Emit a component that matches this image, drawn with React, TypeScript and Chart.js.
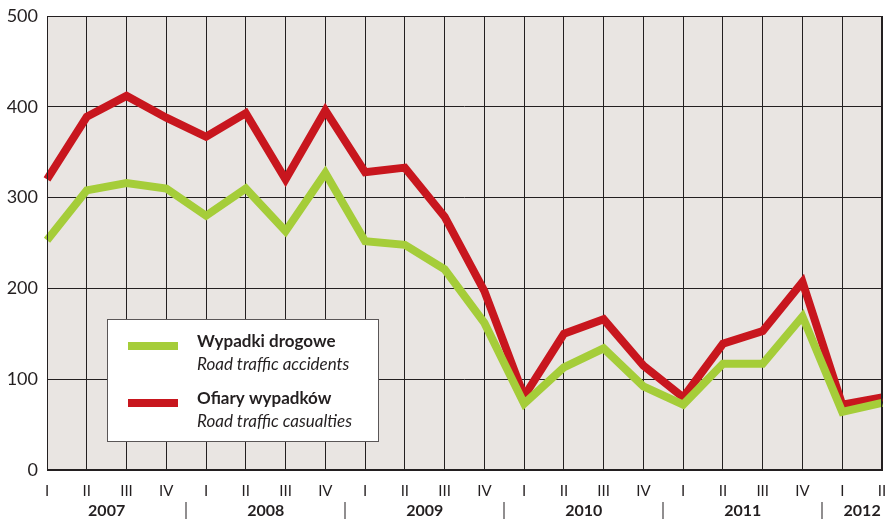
import React, { useEffect, useRef } from "react";
import { Chart, registerables } from "chart.js";

Chart.register(...registerables);

const quarters = ["I","II","III","IV","I","II","III","IV","I","II","III","IV","I","II","III","IV","I","II","III","IV","I","II"];
const years = ["2007", "2008", "2009", "2010", "2011", "2012"];
const yearQuarterCounts = [4, 4, 4, 4, 4, 2];
const accidents = [253,308,316,310,280,310,263,327,252,248,221,162,73,113,134,92,72,117,117,169,64,74];
const casualties = [320,389,412,388,367,393,320,396,328,333,279,197,81,150,166,115,80,139,153,207,72,80];
const yTicks = [0, 100, 200, 300, 400, 500];
const legendItems = [
  { pl: "Wypadki drogowe", en: "Road traffic accidents", color: "#a5cd39" },
  { pl: "Ofiary wypadków", en: "Road traffic casualties", color: "#c8161e" },
];

const FONT = "Lato, 'Open Sans', sans-serif";
const INK = "#231f20";

export default function App() {
  const ref = useRef<HTMLCanvasElement>(null);
  useEffect(() => {
    document.body.style.margin = "0";
    const ctx = ref.current!.getContext("2d")!;
    const decor = {
      id: "decor",
      beforeDraw(chart: any) {
        const { ctx, chartArea: a } = chart;
        ctx.save();
        ctx.fillStyle = "#e9e5e2";
        ctx.fillRect(a.left, a.top, a.right - a.left, a.bottom - a.top);
        ctx.restore();
      },
      afterDatasetsDraw(chart: any) {
        const { ctx, chartArea: a, scales } = chart;
        ctx.save();
        ctx.strokeStyle = INK;
        ctx.lineWidth = 1;
        ctx.strokeRect(a.left + 0.5, a.top + 0.5, a.right - a.left - 1, a.bottom - a.top);
        ctx.lineWidth = 2;
        ctx.beginPath();
        ctx.moveTo(a.left, a.bottom);
        ctx.lineTo(a.right + 1, a.bottom);
        ctx.stroke();
        // legend
        const bx = 107, by = 319, bw = 271, bh = 122;
        ctx.fillStyle = "#ffffff";
        ctx.fillRect(bx, by, bw, bh);
        ctx.strokeStyle = "#5a5657";
        ctx.lineWidth = 1;
        ctx.strokeRect(bx + 0.5, by + 0.5, bw, bh);
        legendItems.forEach((it, i) => {
          const y0 = by + 27 + i * 57;
          ctx.fillStyle = it.color;
          ctx.fillRect(128, y0 - 4, 50, 8);
          ctx.fillStyle = INK;
          ctx.textBaseline = "middle";
          ctx.textAlign = "left";
          ctx.font = `bold 17px ${FONT}`;
          ctx.fillText(it.pl, 197, y0 - 4);
          ctx.font = `italic 17px ${FONT}`;
          ctx.fillText(it.en, 197, y0 + 19);
        });
        // years
        const x = scales.x;
        ctx.font = `bold 16px ${FONT}`;
        ctx.textAlign = "center";
        ctx.fillStyle = INK;
        let idx = 0;
        years.forEach((yr, i) => {
          const n = yearQuarterCounts[i];
          const x0 = x.getPixelForValue(idx);
          const x1 = x.getPixelForValue(idx + n - 1);
          ctx.fillText(yr, (x0 + x1) / 2, 511);
          if (idx > 0) {
            const xs = (x.getPixelForValue(idx - 1) + x0) / 2;
            ctx.fillRect(Math.round(xs) - 0.5, 502, 1, 17);
          }
          idx += n;
        });
        ctx.restore();
      },
    };
    const chart = new Chart(ctx, {
      type: "line",
      data: {
        labels: quarters,
        datasets: [
          { data: accidents, borderColor: "#a5cd39", borderWidth: 8, pointRadius: 0, tension: 0, borderJoinStyle: "miter" as any, borderCapStyle: "butt" as any },
          { data: casualties, borderColor: "#c8161e", borderWidth: 8, pointRadius: 0, tension: 0, borderJoinStyle: "miter" as any, borderCapStyle: "butt" as any },
        ],
      },
      options: {
        animation: false,
        responsive: false,
        layout: { padding: { top: 16, right: 6, left: 0, bottom: 0 } },
        plugins: { legend: { display: false }, tooltip: { enabled: false } },
        scales: {
          x: {
            offset: false,
            grid: { color: INK, lineWidth: 1, drawTicks: false },
            border: { display: false },
            ticks: { color: INK, font: { family: FONT, size: 15 }, padding: 12, maxRotation: 0, autoSkip: false },
            afterFit: (s: any) => { s.height = 49; s.paddingLeft = 0; s.paddingRight = 0; },
          },
          y: {
            min: 0,
            max: 500,
            afterBuildTicks: (s: any) => { s.ticks = yTicks.map((v) => ({ value: v })); },
            grid: { color: INK, lineWidth: 1, drawTicks: false },
            border: { display: false },
            ticks: { color: INK, font: { family: FONT, size: 18 }, padding: 9 },
            afterFit: (s: any) => { s.width = 47; s.paddingTop = 0; s.paddingBottom = 0; },
          },
        },
      },
      plugins: [decor],
    });
    return () => chart.destroy();
  }, []);
  return (
    <div style={{ position: "absolute", left: 0, top: 0, width: 888, height: 519, background: "#fff" }}>
      <canvas ref={ref} width={888} height={519} />
    </div>
  );
}
